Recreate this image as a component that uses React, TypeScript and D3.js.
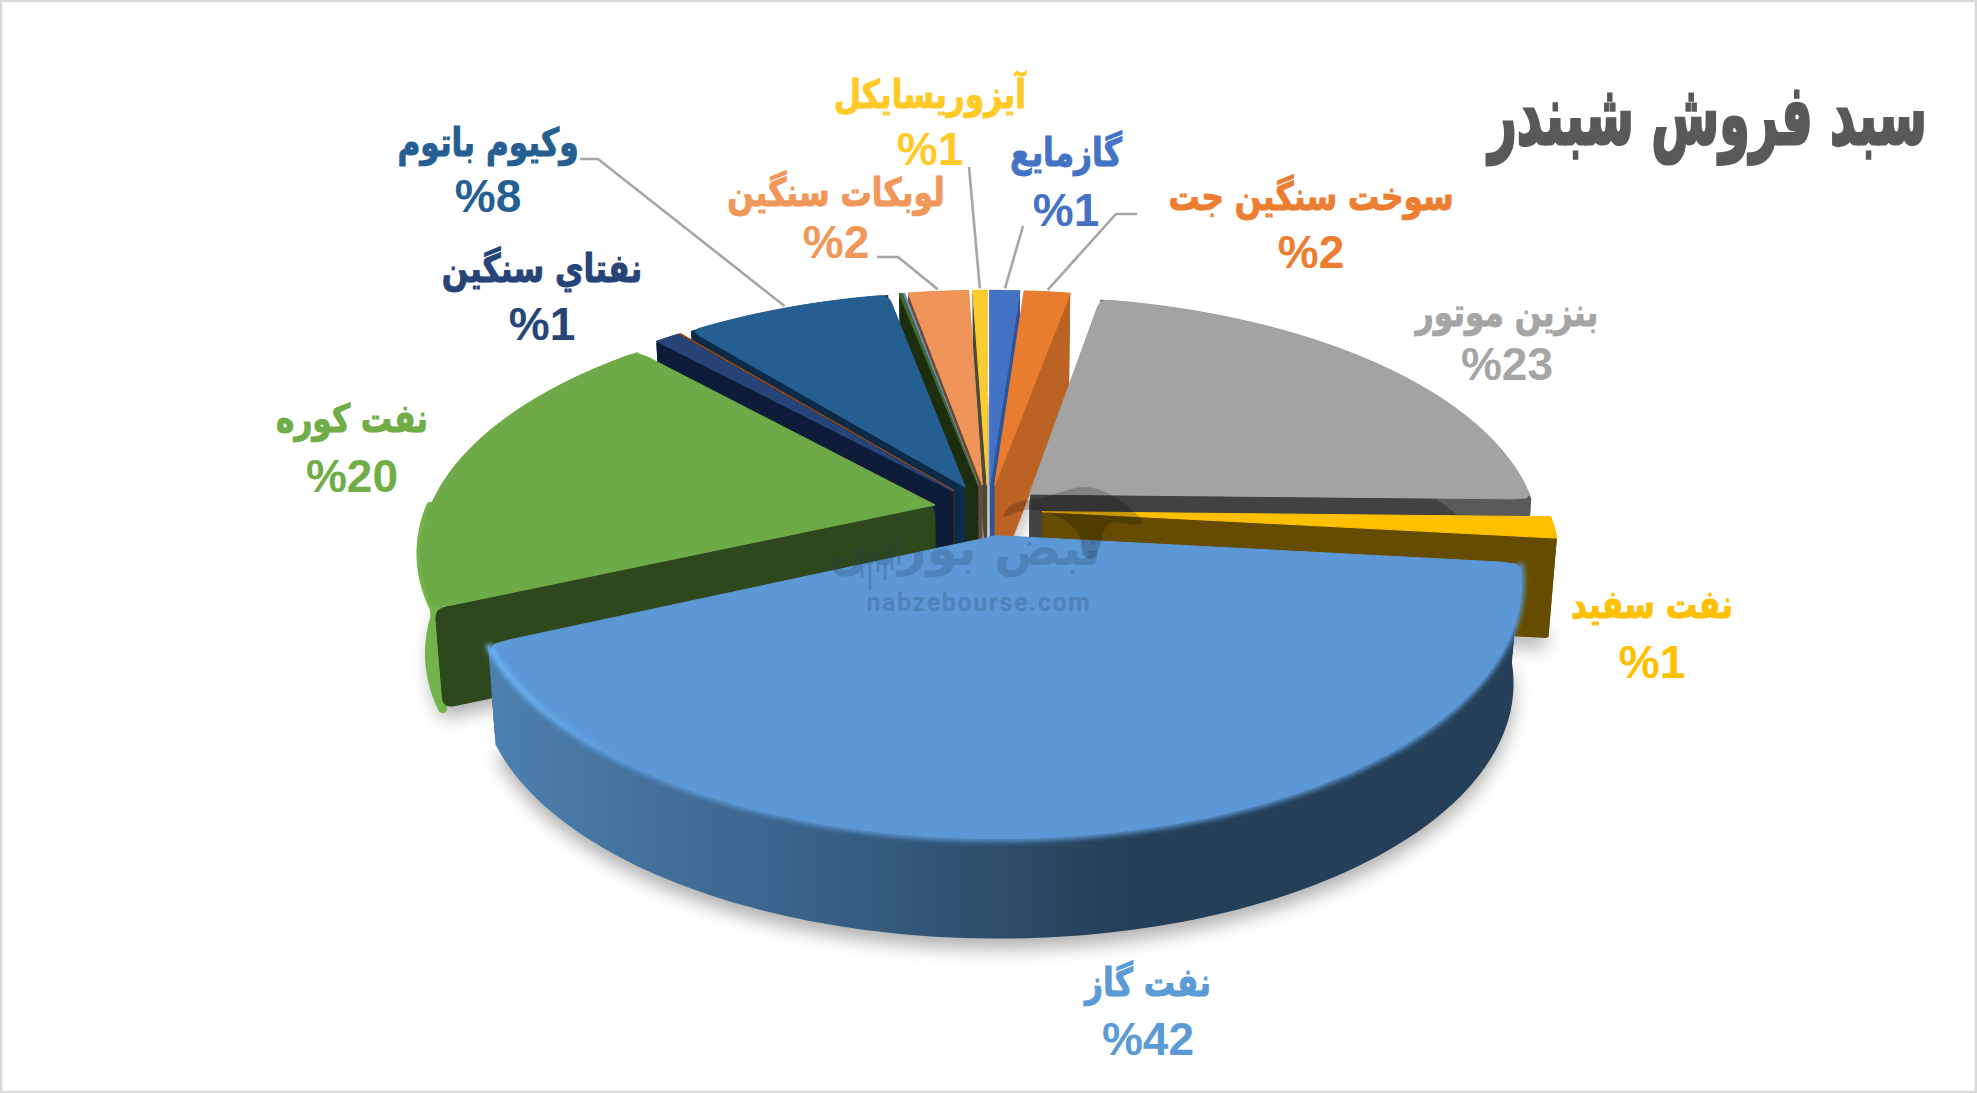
import * as d3 from "d3";

// chart values, clockwise from 12 o'clock
const categories = [
  "گازمایع", "سوخت سنگین جت", "بنزین موتور", "نفت سفید", "نفت گاز", "نفت کوره",
  "نفتاي سنگين", "قیر", "وکیوم باتوم", "گوگرد", "حلال", "لوبکات سنگین", "آیزوریسایکل",
];
const shares = [1.15, 1.75, 22.5, 1.4, 41.7, 19.8, 0.95, 0.05, 7.9, 0.12, 0.08, 2.3, 0.55];
const percentLabels = ["%1", "%2", "%23", "%1", "%42", "%20", "%1", "", "%8", "", "", "%2", "%1"];

const topColors = ["#4472c4", "#ea7c30", "#a3a3a3", "#ffc000", "#5b98d5", "#6eaa47", "#264478", "#9e480e", "#255e91", "#43682b", "#698ed0", "#ef9559", "#fccb2e"];
const cutColors = ["#2f5597", "#bb6325", "#424242", "#664c00", "#243f57", "#2e481d", "#0d1c38", "#4a2408", "#0c2b48", "#1d2e10", "#33507f", "#6d4a30", "#4a4a3a"];
const rimColors = ["#2f5597", "#bb6325", "#5a5a5a", "#664c00", "url(#frontWall)", "#72b34a", "#0d1c38", "#4a2408", "#0c2b48", "#1d2e10", "#33507f", "#6d4a30", "#4a4a3a"];
const textColors = ["#4472c4", "#ed7d31", "#a5a5a5", "#ffc000", "#5b9bd5", "#70ad47", "#264478", "", "#255e91", "", "", "#f1975a", "#ffca28"];

// label centre x, name baseline, percent baseline
const labelPos: ([number, number, number] | null)[] = [
  [1066, 166, 226], [1311, 210, 268], [1507, 326, 380], [1652, 618, 678], [1148, 996, 1055], [352, 432, 492],
  [542, 282, 340], null, [488, 156, 212], null, null, [836, 206, 258], [930, 108, 165],
];
// label-side points of the leader lines, by slice index
const leaders: Record<number, [number, number][]> = {
  8: [[580, 159], [598, 159]],
  11: [[877, 257], [898, 257]],
  12: [[969, 167]],
  0: [[1023, 226]],
  1: [[1137, 214], [1116, 214]],
};

// watermark artwork
const bullOutline: [number, number][] = [
  [998, 522], [1010, 503], [1027, 500], [1050, 497], [1083, 483], [1110, 493], [1130, 507], [1148, 525],
  [1130, 525], [1110, 520], [1103, 530], [1097, 563], [1080, 557], [1083, 537], [1067, 520], [1043, 510], [1023, 508],
];
const candles: [number, number, number][] = [
  [862, 545, 578], [870, 540, 590], [878, 545, 572], [885, 532, 580], [892, 540, 570], [899, 535, 565],
];

const W = 1977;
const H = 1093;
const cx = 988;
const cy = 510;
const rx = 506;
const ry = 238;
const persp = 0.18;
const explode = 0.107;
const depth = 100;
const bottomShrink = 0.985;

type Pt = [number, number];

const project = (u: number, v: number, bottom = false): Pt => {
  const s = 1 / (1 + persp * v);
  return [cx + rx * u * s * (bottom ? bottomShrink : 1), cy - ry * v * s + (bottom ? depth : 0)];
};

// closed polygon with its corners rounded off
const roundedPath = (pts: Pt[], r: number) => {
  const n = pts.length;
  const path = d3.path();
  pts.forEach((p, i) => {
    const a = pts[(i + n - 1) % n];
    const b = pts[(i + 1) % n];
    const la = Math.hypot(a[0] - p[0], a[1] - p[1]);
    const lb = Math.hypot(b[0] - p[0], b[1] - p[1]);
    const ra = Math.min(r, la / 2);
    const rb = Math.min(r, lb / 2);
    const p1: Pt = [p[0] + ((a[0] - p[0]) * ra) / la, p[1] + ((a[1] - p[1]) * ra) / la];
    const p2: Pt = [p[0] + ((b[0] - p[0]) * rb) / lb, p[1] + ((b[1] - p[1]) * rb) / lb];
    if (i === 0) path.moveTo(p1[0], p1[1]);
    else path.lineTo(p1[0], p1[1]);
    path.quadraticCurveTo(p[0], p[1], p2[0], p2[1]);
  });
  path.closePath();
  return path.toString();
};

const arcs = d3
  .pie<number>()
  .sort(null)
  .startAngle(0)
  .endAngle(2 * Math.PI)
  .value((d) => d)(shares);

const slices = arcs
  .map((a, i) => {
    const mid = (a.startAngle + a.endAngle) / 2;
    const ou = explode * Math.sin(mid);
    const ov = explode * Math.cos(mid);
    const at = (t: number, r = 1, bottom = false) =>
      project(ou + r * Math.sin(t), ov + r * Math.cos(t), bottom);
    const span = a.endAngle - a.startAngle;
    const n = Math.max(3, Math.ceil(span / 0.02));
    const ts = d3.range(n + 1).map((k) => a.startAngle + (span * k) / n);
    const top = ts.map((t) => at(t));
    const bot = ts.map((t) => at(t, 1, true));
    // top face keeps its outer corners soft on the wider slices
    const inset = span > 0.2 ? 0.018 : 0;
    const faceTs = inset ? ts.filter((t) => t > a.startAngle + inset && t < a.endAngle - inset) : ts;
    const face: Pt[] = inset
      ? [at(0, 0), at(a.startAngle, 1 - inset * 2), at(a.startAngle + inset * 0.25, 1 - inset * 0.5), ...faceTs.map((t) => at(t)), at(a.endAngle - inset * 0.25, 1 - inset * 0.5), at(a.endAngle, 1 - inset * 2)]
      : [at(0, 0), ...top];
    return { i, mid, at, top, bot, face, span, apex: at(0, 0), apexB: at(0, 0, true) };
  })
  .sort((a, b) => Math.cos(b.mid) - Math.cos(a.mid));

const closed = d3.line().curve(d3.curveLinearClosed);
const open = d3.line();
const blob = d3.line().curve(d3.curveBasisClosed);

export default function App() {
  return (
    <svg width={W} height={H} viewBox={`0 0 ${W} ${H}`} style={{ position: "absolute", left: 0, top: 0 }}>
      <defs>
        <filter id="shadow" x="-20%" y="-20%" width="140%" height="140%">
          <feGaussianBlur stdDeviation="9" />
        </filter>
        <filter id="soft" x="-10%" y="-10%" width="120%" height="120%">
          <feGaussianBlur stdDeviation="2.5" />
        </filter>
        <linearGradient id="frontWall" gradientUnits="userSpaceOnUse" x1="490" y1="0" x2="1240" y2="0">
          <stop offset="0" stopColor="#4d80b0" />
          <stop offset="0.45" stopColor="#386085" />
          <stop offset="0.85" stopColor="#243f57" />
          <stop offset="1" stopColor="#243f57" />
        </linearGradient>
        <linearGradient id="frontGlow" gradientUnits="userSpaceOnUse" x1="490" y1="0" x2="640" y2="0">
          <stop offset="0" stopColor="#6cb6f8" />
          <stop offset="1" stopColor="#5b98d5" />
        </linearGradient>
      </defs>
      <rect x={1} y={1} width={W - 2} height={H - 2} fill="#fff" stroke="#d9d9d9" strokeWidth={2.5} />

      {/* ground shadow */}
      <g filter="url(#shadow)" transform="translate(0,10)">
        {slices.map((s) => (
          <path key={s.i} d={closed([s.apexB, ...s.bot])!} fill="#b0b0b0" />
        ))}
      </g>

      {slices.map((s) => {
        // the fuel oil rim shows as a wider strip past its cut face, only at the low end
        const stripEnd = Math.round(s.top.length * 0.35);
        return (
          <g key={s.i}>
            {s.i === 5 && (
              <path
                d={closed([...s.top.slice(0, stripEnd), ...s.bot.slice(0, stripEnd).reverse()])!}
                fill={rimColors[s.i]}
                stroke={rimColors[s.i]}
                strokeWidth={9}
                strokeLinejoin="round"
              />
            )}
            <path d={roundedPath([s.apex, s.top[0], s.bot[0], s.apexB], s.span > 0.2 ? 12 : 3)} fill={cutColors[s.i]} />
            <path
              d={roundedPath([s.apex, s.top[s.top.length - 1], s.bot[s.bot.length - 1], s.apexB], s.span > 0.2 ? 12 : 3)}
              fill={cutColors[s.i]}
            />
            <path d={closed([...s.top, ...[...s.bot].reverse()])!} fill={rimColors[s.i]} />
            <path d={closed(s.face)!} fill={topColors[s.i]} stroke={topColors[s.i]} strokeWidth={1} strokeLinejoin="round" />
            {s.i === 4 && (
              <path d={open(s.top)!} fill="none" stroke="url(#frontGlow)" strokeWidth={6} filter="url(#soft)" />
            )}
          </g>
        );
      })}

      {/* leader lines */}
      {Object.entries(leaders).map(([k, pts]) => {
        const s = slices.find((d) => d.i === +k)!;
        return <path key={k} d={open([...pts, s.at(s.mid, 1.012)])!} fill="none" stroke="#a6a6a6" strokeWidth={2.6} />;
      })}

      {/* watermark */}
      <path d={blob(bullOutline)!} fill="#000" opacity={0.2} />
      <g opacity={0.22} fill="#1d3a55" fontWeight="bold">
        <text x={965} y={565} textAnchor="middle" fontSize={50} fontFamily="DejaVu Sans">
          نبض بورس
        </text>
        <text x={979} y={611} textAnchor="middle" fontSize={25} letterSpacing={1.6} fontFamily="Roboto">
          nabzebourse.com
        </text>
        <path d={candles.map((c) => `M${c[0]},${c[1]}V${c[2]}`).join("")} stroke="#1d3a55" strokeWidth={2.5} fill="none" />
      </g>

      {/* labels */}
      {labelPos.map((p, i) =>
        p ? (
          <g key={i} fill={textColors[i]} fontWeight="bold" textAnchor="middle">
            <text
              transform={`translate(${p[0]},${p[1]}) scale(1.04,1.3)`}
              fontFamily="DejaVu Sans"
              fontSize={30}
              stroke={textColors[i]}
              strokeWidth={0.8}
            >
              {categories[i]}
            </text>
            <text x={p[0]} y={p[2]} fontFamily="Liberation Sans" fontSize={46}>
              {percentLabels[i]}
            </text>
          </g>
        ) : null
      )}

      <text
        transform="translate(1927,144) scale(0.85,1.45)"
        textAnchor="end"
        fontFamily="DejaVu Sans"
        fontWeight="bold"
        fontSize={58}
        fill="#595959"
        stroke="#595959"
        strokeWidth={2.2}
      >
        سبد فروش شبندر
      </text>
    </svg>
  );
}
